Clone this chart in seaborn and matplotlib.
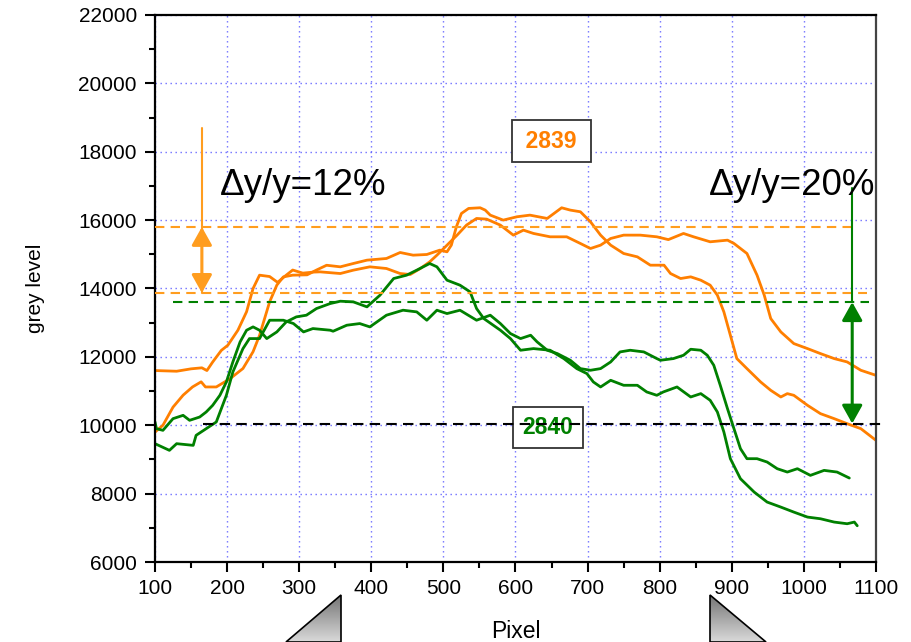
import numpy as np
import pandas as pd
import matplotlib
matplotlib.use("Agg")
import matplotlib.pyplot as plt
from matplotlib.patches import Polygon
from matplotlib.ticker import MultipleLocator
import seaborn as sns

#two orange profiles (2839) and two green profiles (2840), pixel -> grey level
orange_a_x = [100, 130, 150, 165, 172, 180, 192, 201, 215, 227, 236, 245, 259, 270, 282, 291, 305, 320,
              329, 357, 375, 398, 421, 440, 454, 468, 481, 491, 505, 519, 532, 546, 560,
              579, 597, 611, 625, 648, 671, 690, 704, 718, 732, 750, 773, 796, 812,
              833, 847, 870, 894, 903, 921, 935, 945, 954, 968, 986, 1005, 1023, 1042, 1060, 1079, 1100]
orange_a_y = [11600, 11580, 11650, 11680, 11600, 11850, 12190, 12340, 12780, 13320, 14000, 14390, 14350, 14180, 14390, 14540, 14450, 14480,
              14487, 14438, 14536, 14634, 14585, 14438, 14409, 14585, 14780, 14975, 15268, 15561, 15854, 16049, 16029,
              15854, 15561, 15707, 15610, 15512, 15512, 15317, 15170, 15268, 15463, 15561, 15561, 15512, 15430,
              15610, 15512, 15366, 15414, 15317, 15024, 14390, 13804, 13121, 12730, 12389, 12242, 12096, 11950, 11852, 11608, 11460]

orange_b_x = [100, 111, 125, 139, 152, 164, 170, 185, 204, 222, 236, 245, 252, 259, 269, 278, 291, 311, 324,
              338, 357, 375, 394, 421, 440, 458, 477, 495, 505, 511, 518, 525, 535, 551, 558,
              565, 583, 602, 620, 644, 664, 676, 690, 704, 718, 732, 750, 769, 787, 806,
              815, 829, 843, 857, 870, 880, 889, 898, 907, 921, 940, 954, 968, 977, 986, 1005, 1023, 1042, 1060, 1079, 1100]
orange_b_y = [9800, 10000, 10530, 10880, 11120, 11270, 11120, 11120, 11360, 11660, 12150, 12630, 13120, 13610, 14100, 14340, 14390, 14400, 14540,
              14680, 14634, 14731, 14829, 14878, 15053, 14975, 14995, 15122, 15073, 15268, 15805, 16195, 16342, 16361, 16293,
              16146, 16000, 16098, 16146, 16049, 16361, 16293, 16244, 15951, 15561, 15268, 15024, 14926, 14682, 14682,
              14438, 14292, 14341, 14243, 14097, 13804, 13316, 12633, 11950, 11657, 11266, 11022, 10827, 10925, 10876, 10583, 10339, 10193, 10046, 9900, 9558]

green_a_x = [100, 120, 130, 153, 157, 171, 185, 199, 208, 222, 231, 245, 259, 278, 292, 306, 319, 343,
             347, 366, 384, 398, 421, 444, 463, 477, 491, 505, 523, 546, 565,
             579, 593, 607, 621, 630, 644, 658, 676, 690, 704, 718, 732, 745, 759, 778, 796,
             801, 819, 833, 843, 857, 866, 875, 884, 894, 903, 912, 921, 935, 949, 963, 977, 991, 1009, 1028, 1046, 1063]
green_a_y = [9461, 9266, 9461, 9412, 9705, 9900, 10095, 10876, 11559, 12242, 12535, 12535, 13072, 13072, 12975, 12730, 12828, 12780,
             12750, 12926, 12974, 12877, 13219, 13365, 13316, 13072, 13365, 13267, 13365, 13072, 13219,
             12975, 12682, 12535, 12633, 12438, 12194, 12096, 11901, 11657, 11608, 11657, 11852, 12145, 12194, 12145, 11950,
             11901, 11950, 12047, 12223, 12194, 12047, 11755, 11169, 10486, 9900, 9315, 9022, 9022, 8924, 8729, 8631, 8729, 8534, 8680, 8631, 8456]

green_b_x = [100, 102, 111, 125, 139, 148, 162, 171, 180, 190, 199, 208, 218, 227, 236, 245, 255, 269, 282, 296, 310, 324, 343,
             357, 375, 394, 412, 431, 449, 463, 481, 491, 505, 523, 537, 546, 556,
             579, 593, 607, 625, 648, 667, 685, 699, 708, 718, 732, 750, 769, 782, 796,
             805, 824, 843, 857, 870, 880, 889, 898, 912, 931, 949, 968, 986, 1005, 1023, 1042, 1060, 1070, 1074]
green_b_y = [10095, 9900, 9851, 10193, 10290, 10144, 10241, 10388, 10583, 10876, 11266, 11852, 12437, 12779, 12877, 12779, 12535, 12730, 13023, 13170, 13219, 13414, 13560,
             13628, 13609, 13463, 13804, 14292, 14390, 14536, 14731, 14634, 14243, 14097, 13902, 13414, 13121,
             12780, 12535, 12194, 12242, 12194, 11950, 11657, 11511, 11266, 11120, 11315, 11169, 11169, 10974, 10876,
             10974, 11120, 10827, 10925, 10730, 10388, 9803, 9022, 8436, 8046, 7753, 7606, 7460, 7314, 7265, 7168, 7119, 7168, 7060]

#reference levels (dashed) and the arrows between them
orange_high = 15800
orange_low = 13870
green_high = 13600
green_low = 10050
orange_arrow_x = 165
orange_arrow_top = 18700
green_arrow_x = 1067
green_arrow_top = 16950

ORANGE = "#ff7f00"
ORANGE_DASH = "#ff9d1f"
GREEN = "#008000"


def draw_profiles(ax):
    frames = []
    for name, xs, ys in [("o_a", orange_a_x, orange_a_y), ("o_b", orange_b_x, orange_b_y),
                         ("g_a", green_a_x, green_a_y), ("g_b", green_b_x, green_b_y)]:
        frames.append(pd.DataFrame({"Pixel": xs, "grey": ys, "curve": name}))
    df = pd.concat(frames, ignore_index=True)
    palette = {"o_a": ORANGE, "o_b": ORANGE, "g_a": GREEN, "g_b": GREEN}
    sns.lineplot(data=df, x="Pixel", y="grey", hue="curve", units="curve", estimator=None,
                 sort=False, palette=palette, linewidth=2.0, legend=False, ax=ax, zorder=2)


def draw_levels(ax):
    dash = (0, (4.5, 3))
    ax.plot([100, 1067], [orange_high] * 2, color=ORANGE_DASH, lw=1.5, ls=dash, zorder=3)
    ax.plot([100, 1088], [orange_low] * 2, color=ORANGE_DASH, lw=1.5, ls=dash, zorder=3)
    ax.plot([125, 1090], [green_high] * 2, color=GREEN, lw=1.5, ls=dash, zorder=3)
    ax.plot([166, 1111], [green_low] * 2, color="black", lw=1.5, ls=(0, (5, 3)), zorder=3, clip_on=False)

    #thin leader line plus double headed arrow for each pair
    ax.plot([orange_arrow_x] * 2, [orange_low, orange_arrow_top], color=ORANGE_DASH, lw=1.5, zorder=4)
    ax.annotate("", xy=(orange_arrow_x, orange_high), xytext=(orange_arrow_x, orange_low),
                arrowprops=dict(arrowstyle="<|-|>,head_length=0.5,head_width=0.28", color=ORANGE_DASH,
                                lw=2.2, mutation_scale=22, shrinkA=0, shrinkB=0), zorder=4)
    ax.plot([green_arrow_x] * 2, [green_high, green_arrow_top], color=GREEN, lw=1.5, zorder=4)
    ax.annotate("", xy=(green_arrow_x, green_high), xytext=(green_arrow_x, green_low),
                arrowprops=dict(arrowstyle="<|-|>,head_length=0.5,head_width=0.28", color=GREEN,
                                lw=2.2, mutation_scale=22, shrinkA=0, shrinkB=0), zorder=4)

    ax.text(190, 17025, "Δy/y=12%", fontsize=26.5, color="black", ha="left", va="center", zorder=5)
    ax.text(1099, 17025, "Δy/y=20%", fontsize=26.5, color="black", ha="right", va="center", zorder=5)

    box = dict(boxstyle="square,pad=0.4", fc="white", ec="#333333", lw=1.3)
    ax.text(650, 18313, "\u20092839\u2009", color=ORANGE, fontsize=16.5, fontweight="bold",
            ha="center", va="center", bbox=box, zorder=2.5)
    ax.text(645, 9939, "2840", color=GREEN, fontsize=16.5, fontweight="bold",
            ha="center", va="center", bbox=box, zorder=2.5)


def draw_triangles(fig):
    ov = fig.add_axes([0, 0, 1, 1], zorder=-1)
    ov.set_xlim(0, 912)
    ov.set_ylim(0, 642)
    ov.axis("off")
    shade = np.linspace(0.45, 0.85, 64).reshape(-1, 1)
    for corners, ext in [([(341, 47), (341, 0), (286, 0)], (284, 343, 0, 48)),
                         ([(710, 47), (710, 0), (766, 0)], (708, 768, 0, 48))]:
        tri = Polygon(corners, closed=True, fc="none", ec="black", lw=1.2)
        ov.add_patch(tri)
        im = ov.imshow(shade, cmap="gray", vmin=0, vmax=1, extent=ext, origin="upper", aspect="auto")
        im.set_clip_path(tri)


def main():
    sns.set_style("ticks")
    plt.rcParams["font.family"] = ["Liberation Sans", "DejaVu Sans"]
    #plain black text like the original, not seaborn's dark grey
    for key in ["text.color", "axes.labelcolor", "xtick.color", "ytick.color"]:
        plt.rcParams[key] = "black"

    fig = plt.figure(figsize=(9.12, 6.42), dpi=100)
    ax = fig.add_axes([155 / 912, 80 / 642, 721 / 912, 547 / 642])

    draw_profiles(ax)
    draw_levels(ax)

    ax.set_xlim(100, 1100)
    ax.set_ylim(6000, 22000)
    ax.xaxis.set_major_locator(MultipleLocator(100))
    ax.xaxis.set_minor_locator(MultipleLocator(50))
    ax.yaxis.set_major_locator(MultipleLocator(2000))
    ax.yaxis.set_minor_locator(MultipleLocator(1000))
    ax.tick_params(which="major", direction="out", length=7, width=1.5, labelsize=15, pad=5)
    ax.tick_params(which="minor", direction="out", length=4, width=1.5)
    ax.tick_params(axis="y", which="major", pad=6)
    for side in ["left", "right", "top", "bottom"]:
        ax.spines[side].set_visible(True)
        ax.spines[side].set_linewidth(1.6)
        ax.spines[side].set_color("black")
    ax.spines["right"].set_color("#444444")

    ax.set_axisbelow(True)
    ax.grid(True, which="major", color="#4a4aff", lw=1.0, ls=(0, (1, 2.6)), alpha=0.8)

    ax.set_xlabel("Pixel", fontsize=16.5)
    ax.set_ylabel("grey level", fontsize=15)
    ax.xaxis.set_label_coords(0.5, -0.106)
    ax.yaxis.set_label_coords(-0.153, 0.5)

    draw_triangles(fig)

    fig.savefig("out.png", dpi=100)


if __name__ == "__main__":
    main()
